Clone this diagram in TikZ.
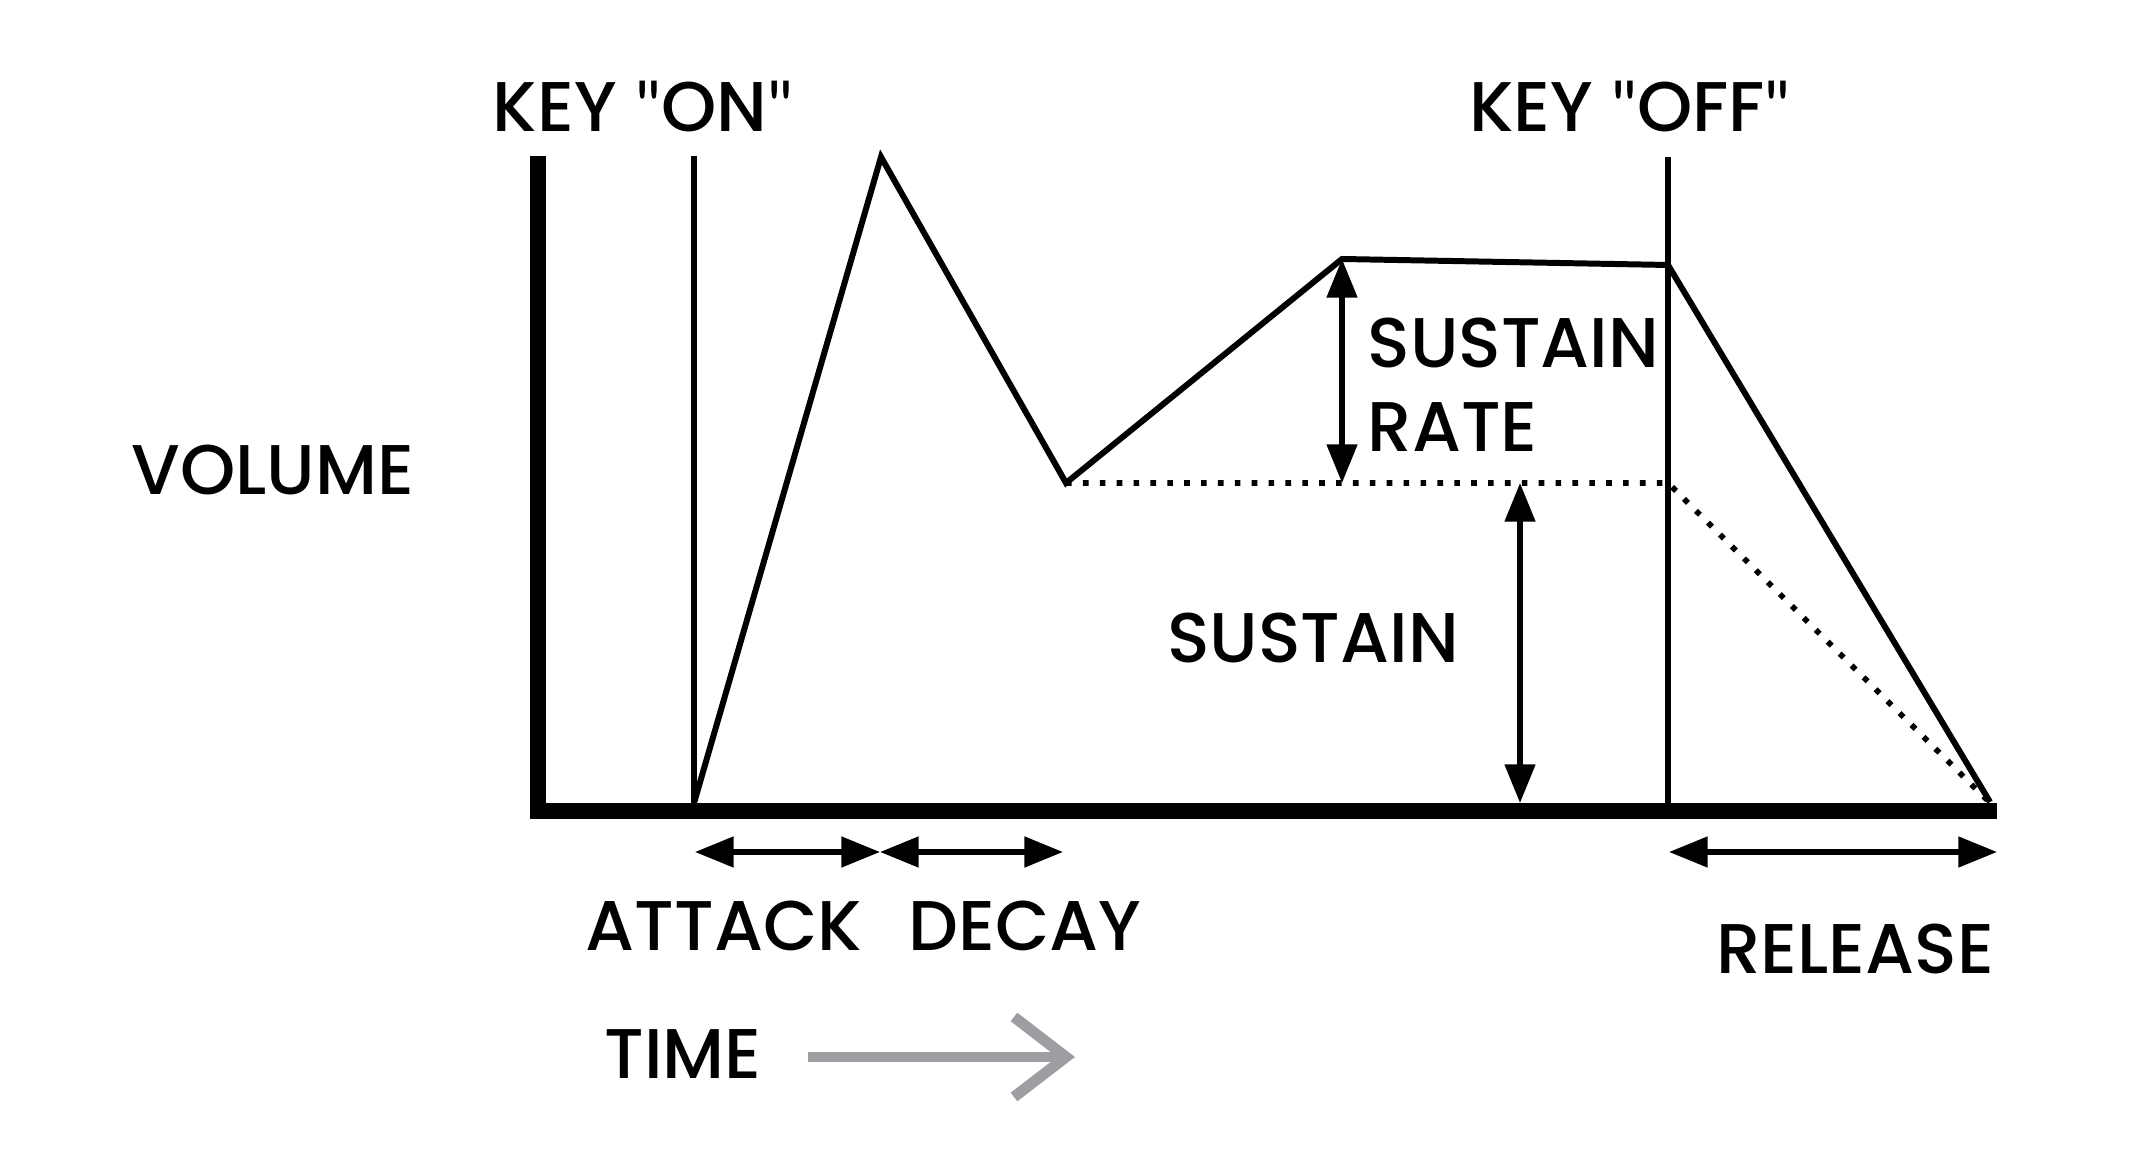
\documentclass[tikz,border=0pt]{standalone}
\usepackage{fontspec}
\setmainfont{Poppins}[UprightFont=* Medium]
\newfontfamily\quotefont{Lato}
\newcommand{\qmark}{{\quotefont\char34}}
\usetikzlibrary{arrows.meta,positioning}
\definecolor{timegray}{HTML}{9D9EA2}
\tikzset{
    axis/.style={line width=4.8pt,line join=miter},
    curve/.style={line width=1.7pt,line join=miter},
    marker/.style={line width=1.5pt},
    guide/.style={line width=1.6pt,dash pattern=on 1.6pt off 3.2pt},
    span/.style={{Triangle[length=11pt,width=8.5pt]}-{Triangle[length=11pt,width=8.5pt]},line width=1.5pt},
    timeline/.style={timegray,line width=3.1pt,line join=miter},
    word/.style={inner sep=0pt,anchor=base,font=\fontsize{20}{24}\selectfont}
}

\begin{document}
\begin{tikzpicture}[x=0.01cm,y=-0.01cm]
    \useasboundingbox (0,0) rectangle (2134,1168);
    % envelope points
    \coordinate (top) at (538,156); \coordinate (origin) at (538,811); \coordinate (right) at (1997,811);
    \coordinate (on0) at (694,803); \coordinate (on1) at (694,156);
    \coordinate (peak) at (881,157); \coordinate (dip) at (1066,483);
    \coordinate (hold) at (1342,259); \coordinate (off) at (1668,265);
    \coordinate (off0) at (1668,803); \coordinate (off1) at (1668,157);
    \coordinate (end) at (1990,802); \coordinate (lvl) at (1668,483); \coordinate (fade) at (1987,800);
    \draw[axis] (top)--(origin)--(right);
    \draw[marker] (on0)--(on1); \draw[marker] (off0)--(off1);
    \draw[guide] (dip)--(lvl)--(fade);
    \draw[curve] (on0)--(peak)--(dip)--(hold)--(off)--(end);
    % spans
    \coordinate (a0) at (695,852); \coordinate (a1) at (880,852); \coordinate (d1) at (1063,852);
    \coordinate (r0) at (1669,852); \coordinate (r1) at (1997,852);
    \coordinate (sr1) at (1342,483); \coordinate (s0) at (1520,483); \coordinate (s1) at (1520,803);
    \draw[span] (a0)--(a1); \draw[span] (a1)--(d1); \draw[span] (r0)--(r1);
    \draw[span] (hold)--(sr1); \draw[span] (s0)--(s1);
    % labels
    \node[word] (keyon) at (643,132) {KEY \qmark ON\qmark};
    \node[word] (keyoff) at (1630,132) {KEY \qmark OFF\qmark};
    \node[word] (volume) at (273,495) {VOLUME};
    \node[word] (attack) at (724,951) {ATTACK};
    \node[word] (decay) at (1025,951) {DECAY};
    \node[word] (release) at (1855,974) {RELEASE};
    \node[word] (sustain) at (1313,663) {SUSTAIN};
    \node[word,anchor=base west] (srate) at (1367,368) {SUSTAIN};
    \node[word,anchor=base west] (srate2) at (1367,452) {RATE};
    \node[word] (time) at (683,1078) {TIME};
    \coordinate (t0) at (808,1057); \coordinate (t1) at (1066,1057);
    \draw[timeline] (t0)--(t1);
    \draw[timeline] (1014,1017)--(t1)--(1014,1097);
\end{tikzpicture}
\end{document}
